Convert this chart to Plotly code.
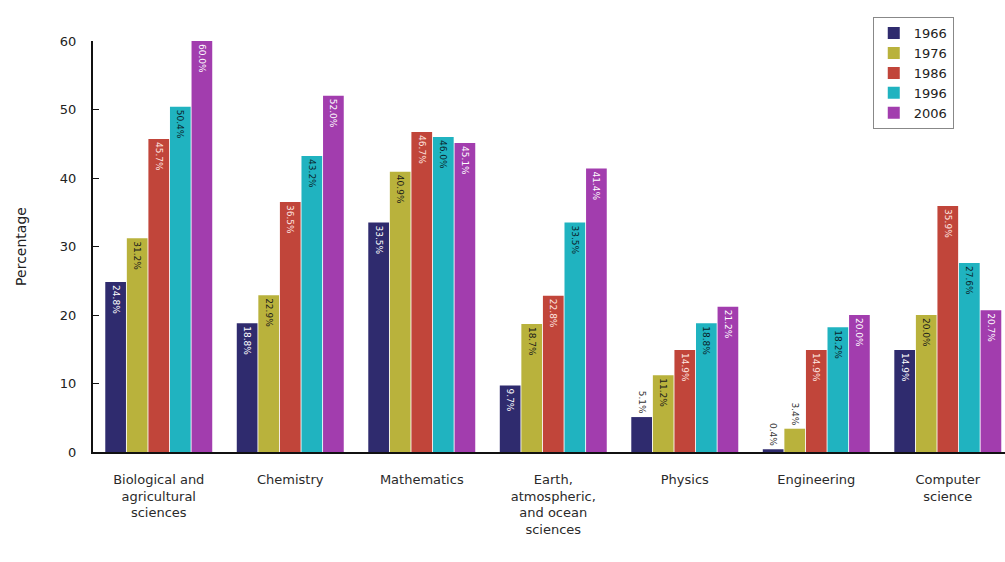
import plotly.graph_objects as go

# Fields of study (category axis), with line breaks as displayed
fields = [
    "Biological and<br>agricultural<br>sciences",
    "Chemistry",
    "Mathematics",
    "Earth,<br>atmospheric,<br>and ocean<br>sciences",
    "Physics",
    "Engineering",
    "Computer<br>science",
]

years = ["1966", "1976", "1986", "1996", "2006"]

# Percentage by year, one list per series
pct_1966 = [24.8, 18.8, 33.5, 9.7, 5.1, 0.4, 14.9]
pct_1976 = [31.2, 22.9, 40.9, 18.7, 11.2, 3.4, 20.0]
pct_1986 = [45.7, 36.5, 46.7, 22.8, 14.9, 14.9, 35.9]
pct_1996 = [50.4, 43.2, 46.0, 33.5, 18.8, 18.2, 27.6]
pct_2006 = [60.0, 52.0, 45.1, 41.4, 21.2, 20.0, 20.7]

series = [pct_1966, pct_1976, pct_1986, pct_1996, pct_2006]
colors = ["#2f2b6e", "#b9b23c", "#c1453a", "#20b3c0", "#a23dae"]
label_colors = ["#ffffff", "#1a1a1a", "#ffe6e0", "#0a1f2a", "#ffffff"]

fig = go.Figure()
for year, vals, col, tcol in zip(years, series, colors, label_colors):
    positions = ["outside" if v < 6 else "inside" for v in vals]
    fig.add_trace(go.Bar(
        name=year,
        x=fields,
        y=vals,
        marker=dict(color=col, line=dict(width=0)),
        text=[f"{v:.1f}%" for v in vals],
        textposition=positions,
        textangle=90,
        insidetextanchor="end",
        insidetextfont=dict(color=tcol, size=9, family="DejaVu Sans"),
        outsidetextfont=dict(color="#333333", size=9, family="DejaVu Sans"),
        constraintext="none",
        cliponaxis=True,
    ))

fig.update_layout(
    width=1005,
    height=562,
    margin=dict(l=93, r=0, t=41, b=110),
    paper_bgcolor="white",
    plot_bgcolor="white",
    barmode="group",
    bargap=0.18,
    bargroupgap=0.04,
    font=dict(family="DejaVu Sans", size=13, color="#222222"),
    legend=dict(
        x=0.855, y=1.058, xanchor="left", yanchor="top",
        bordercolor="#888888", borderwidth=1, bgcolor="white",
        font=dict(size=13, color="#222222"),
        traceorder="normal",
        itemwidth=30,
    ),
    xaxis=dict(
        range=[-0.5, 6.435],
        showline=True, linecolor="#111111", linewidth=2,
        ticks="", showgrid=False,
        tickfont=dict(size=13, color="#2a2a2a"),
        ticklabelstandoff=14,
    ),
    yaxis=dict(
        range=[0, 60],
        dtick=10,
        showline=True, linecolor="#111111", linewidth=2,
        ticks="inside", ticklen=6, tickcolor="#111111",
        showgrid=False, zeroline=False,
        tickfont=dict(size=13),
        ticklabelstandoff=12,
        title=dict(text="Percentage", font=dict(size=14), standoff=30),
    ),
)

fig.write_html("out.html")
